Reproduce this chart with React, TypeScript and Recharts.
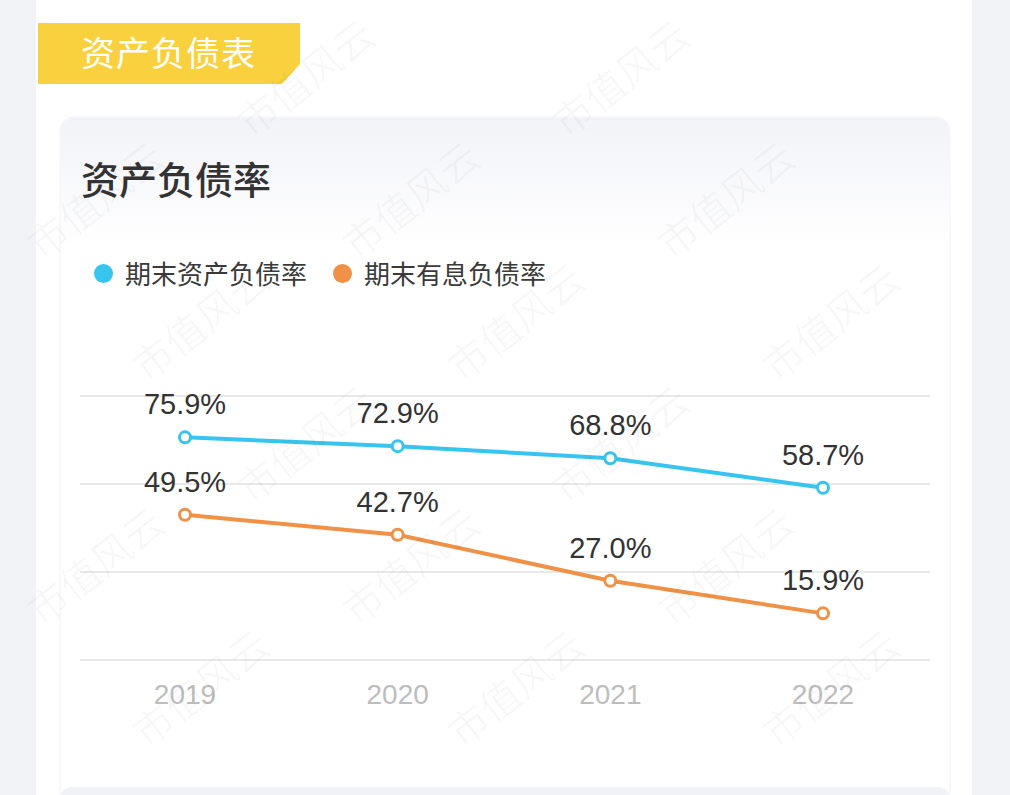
import React from "react";
import { LineChart, Line, XAxis, YAxis, CartesianGrid, LabelList } from "recharts";

const years = ["2019", "2020", "2021", "2022"];
const assetRatio = [75.9, 72.9, 68.8, 58.7];
const interestRatio = [49.5, 42.7, 27.0, 15.9];
const yTicks = [0, 30, 60, 90];
const seriesNames = ["期末资产负债率", "期末有息负债率"];
const colors = ["#37c4ee", "#ef9146"];

const data = years.map((y, i) => ({ year: y, a: assetRatio[i], b: interestRatio[i] }));

const numFont = "'Liberation Sans', Arial, 'Noto Sans CJK SC', sans-serif";
const cjkFont = "'Noto Sans CJK SC', 'Liberation Sans', sans-serif";

const marks: Array<[number, number]> = [];
for (let r = -1; r < 8; r++) {
  for (let c = -1; c < 5; c++) {
    const x = c * 315 + r * 105;
    const y = 90 + r * 122;
    if (x > 70 && x < 940 && y > 70 && y < 740) marks.push([x, y]);
  }
}

export default function App() {
  return (
    <div style={{ position: "absolute", left: 0, top: 0, width: 1010, height: 795, background: "#f2f3f7", overflow: "hidden", fontFamily: cjkFont }}>
      <div style={{ position: "absolute", left: 36, top: 0, width: 936, height: 795, background: "#ffffff" }} />
      <svg width={1010} height={795} style={{ position: "absolute", left: 0, top: 0 }}>
        <defs>
          <linearGradient id="cardg" x1="0" y1="0" x2="0" y2="1">
            <stop offset="0" stopColor="#f2f3f8" />
            <stop offset="1" stopColor="#ffffff" />
          </linearGradient>
        </defs>
        <polygon points="38,23 300,23 300,64 282,84 38,84" fill="#f9d13e" />
        <rect x={60} y={117} width={890} height={700} rx={14} fill="#ffffff" stroke="#f1f2f5" />
        <rect x={61} y={118} width={888} height={130} rx={13} fill="url(#cardg)" />
        <rect x={60} y={787} width={890} height={40} rx={12} fill="#f1f2f7" />
      </svg>
      <div style={{ position: "absolute", left: 81, top: 30, fontSize: 34, color: "#ffffff", lineHeight: "44px", letterSpacing: 1 }}>资产负债表</div>
      <div style={{ position: "absolute", left: 81, top: 154, fontSize: 38, color: "#333333", fontWeight: 500, lineHeight: "48px" }}>资产负债率</div>
      <div style={{ position: "absolute", left: 94, top: 256, display: "flex", alignItems: "center", fontSize: 26, color: "#3a3a3a", lineHeight: "34px" }}>
        <span style={{ width: 19, height: 19, borderRadius: 10, background: colors[0], display: "inline-block", marginRight: 12 }} />
        <span>{seriesNames[0]}</span>
        <span style={{ width: 19, height: 19, borderRadius: 10, background: colors[1], display: "inline-block", marginLeft: 26, marginRight: 12 }} />
        <span>{seriesNames[1]}</span>
      </div>
      <div style={{ position: "absolute", left: 0, top: 0 }}>
        <LineChart width={1010} height={795} data={data} margin={{ top: 396, left: 80, right: 80, bottom: 105 }}>
          <CartesianGrid vertical={false} stroke="#e9e9ec" strokeWidth={2} />
          <YAxis hide domain={[0, 90]} ticks={yTicks} />
          <XAxis
            dataKey="year"
            axisLine={false}
            tickLine={false}
            padding={{ left: 105, right: 107 }}
            tickMargin={18}
            tick={{ fill: "#bdbdbd", fontSize: 28, fontFamily: numFont }}
          />
          <Line
            dataKey="a"
            name={seriesNames[0]}
            stroke={colors[0]}
            strokeWidth={4}
            dot={{ r: 5.5, fill: "#ffffff", stroke: colors[0], strokeWidth: 3 }}
            isAnimationActive={false}
          >
            <LabelList dataKey="a" position="top" offset={23} formatter={(v: number) => v.toFixed(1) + "%"} style={{ fill: "#333333", fontSize: 29, fontFamily: numFont }} />
          </Line>
          <Line
            dataKey="b"
            name={seriesNames[1]}
            stroke={colors[1]}
            strokeWidth={4}
            dot={{ r: 5.5, fill: "#ffffff", stroke: colors[1], strokeWidth: 3 }}
            isAnimationActive={false}
          >
            <LabelList dataKey="b" position="top" offset={23} formatter={(v: number) => v.toFixed(1) + "%"} style={{ fill: "#333333", fontSize: 29, fontFamily: numFont }} />
          </Line>
        </LineChart>
      </div>
      <svg width={1010} height={795} style={{ position: "absolute", left: 0, top: 0, pointerEvents: "none" }}>
        {marks.map(([x, y], i) => (
          <text key={i} x={x} y={y} transform={`rotate(-38 ${x} ${y})`} textAnchor="middle" fontSize={40} fill="#000000" fillOpacity={0.03} fontFamily={cjkFont}>
            市值风云
          </text>
        ))}
      </svg>
    </div>
  );
}
